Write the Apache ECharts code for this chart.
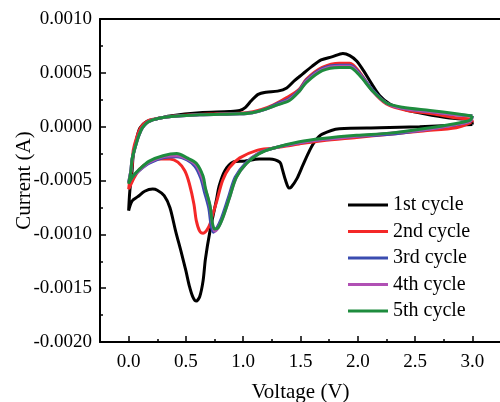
<!DOCTYPE html>
<html>
<head>
<meta charset="utf-8">
<script src="https://cdn.jsdelivr.net/npm/echarts@6/dist/echarts.min.js"></script>
<style>html,body{margin:0;padding:0;background:#fff;}#c{width:500px;height:402px;}</style>
</head>
<body>
<div id="c"></div>
<script>
const seriesNames = ['1st cycle', '2nd cycle', '3rd cycle', '4th cycle', '5th cycle'];
const xTicks = [0, 0.5, 1.0, 1.5, 2.0, 2.5, 3.0];
const xMinorTicks = [0.25, 0.75, 1.25, 1.75, 2.25, 2.75];

const v1 = [3.00,2.54,2.19,1.84,1.69,1.63,1.58,1.52,1.47,1.42,1.40,1.37,1.34,1.32,1.23,1.14,1.01,0.91,0.84,0.79,0.77,0.71,0.67,0.65,0.62,0.59,0.56,0.53,0.50,0.46,0.41,0.36,0.31,0.25,0.21,0.14,0.08,0.03,0.00,0.01,0.03,0.04,0.07,0.10,0.16,0.23,0.36,0.62,0.88,0.97,1.02,1.07,1.13,1.20,1.30,1.38,1.45,1.52,1.60,1.68,1.78,1.87,1.93,1.99,2.05,2.12,2.19,2.28,2.41,2.58,2.80,2.93,2.99,3.00];
const i1 = [0.00002,0.0,-0.00001,-0.00002,-0.00007,-0.00013,-0.00022,-0.00036,-0.00048,-0.00056,-0.00057,-0.0005,-0.00039,-0.00033,-0.0003,-0.0003,-0.00032,-0.00033,-0.00041,-0.00055,-0.00066,-0.00097,-0.00123,-0.00143,-0.00158,-0.00162,-0.00158,-0.00148,-0.00134,-0.00117,-0.00097,-0.00075,-0.00064,-0.00059,-0.00058,-0.0006,-0.00065,-0.00069,-0.00078,-0.0006,-0.00041,-0.00027,-0.00011,-0.00001,0.00005,0.00007,0.0001,0.00013,0.00014,0.00015,0.00018,0.00024,0.0003,0.00032,0.00033,0.00036,0.00043,0.00049,0.00056,0.00062,0.00065,0.00068,0.00066,0.00061,0.00052,0.0004,0.00029,0.00021,0.00016,0.00012,0.00008,0.00007,0.00006,0.00002];

const v2 = [2.99,2.86,2.57,2.28,1.99,1.69,1.49,1.26,1.12,0.97,0.88,0.82,0.77,0.73,0.70,0.65,0.62,0.59,0.57,0.53,0.49,0.43,0.36,0.27,0.18,0.10,0.05,0.01,0.00,0.01,0.03,0.04,0.07,0.11,0.18,0.27,0.40,0.77,1.03,1.16,1.26,1.38,1.49,1.55,1.69,1.84,1.93,2.02,2.13,2.25,2.43,2.65,2.87,2.99,3.00];
const i2 = [0.00004,-0.00001,-0.00004,-0.00007,-0.0001,-0.00013,-0.00016,-0.0002,-0.00022,-0.00029,-0.00038,-0.0005,-0.00069,-0.00083,-0.00093,-0.00099,-0.00097,-0.00087,-0.00072,-0.00053,-0.00041,-0.00033,-0.0003,-0.0003,-0.00033,-0.00039,-0.00047,-0.00056,-0.00058,-0.0005,-0.00036,-0.00022,-0.0001,0.0,0.00006,0.00008,0.0001,0.00012,0.00013,0.00016,0.0002,0.00027,0.00035,0.00044,0.00055,0.00059,0.00059,0.0005,0.00033,0.00021,0.00015,0.00012,0.00008,0.00007,0.00004];

const v3 = [3.00,2.98,2.86,2.57,2.28,1.99,1.69,1.49,1.26,1.13,1.02,0.93,0.87,0.81,0.77,0.74,0.72,0.70,0.66,0.63,0.58,0.51,0.42,0.30,0.18,0.10,0.03,0.00,0.02,0.03,0.06,0.09,0.12,0.18,0.33,0.62,0.97,1.08,1.19,1.29,1.40,1.49,1.55,1.69,1.84,1.93,2.02,2.13,2.25,2.39,2.63,2.86,3.00];
const i3 = [0.0001,0.00005,0.00002,-0.00003,-0.00007,-0.00009,-0.00012,-0.00015,-0.0002,-0.00025,-0.00034,-0.00047,-0.00066,-0.00085,-0.00094,-0.00098,-0.00092,-0.00076,-0.0006,-0.00048,-0.00037,-0.00031,-0.00028,-0.00029,-0.00034,-0.0004,-0.00047,-0.00052,-0.0004,-0.0003,-0.00018,-0.00008,-0.00001,0.00005,0.00009,0.00011,0.00012,0.00013,0.00016,0.00021,0.00026,0.00034,0.00043,0.00054,0.00057,0.00057,0.00049,0.00034,0.00022,0.00017,0.00014,0.00011,0.0001];

const v4 = [3.00,2.98,2.86,2.57,2.28,1.99,1.69,1.49,1.26,1.13,1.03,0.94,0.88,0.82,0.78,0.75,0.73,0.71,0.67,0.64,0.59,0.51,0.42,0.30,0.18,0.10,0.03,0.00,0.02,0.03,0.06,0.09,0.12,0.18,0.33,0.62,0.97,1.08,1.19,1.29,1.40,1.49,1.55,1.69,1.84,1.93,2.02,2.13,2.25,2.39,2.63,2.86,3.00];
const i4 = [0.0001,0.00005,0.00002,-0.00003,-0.00006,-0.00009,-0.00012,-0.00015,-0.0002,-0.00025,-0.00034,-0.00047,-0.00066,-0.00085,-0.00094,-0.00097,-0.0009,-0.00074,-0.00058,-0.00047,-0.00036,-0.0003,-0.00027,-0.00028,-0.00033,-0.0004,-0.00047,-0.00052,-0.0004,-0.0003,-0.00018,-0.00008,-0.00001,0.00005,0.00009,0.00011,0.00012,0.00013,0.00016,0.0002,0.00025,0.00033,0.00042,0.00053,0.00056,0.00056,0.00048,0.00033,0.00022,0.00017,0.00014,0.00011,0.0001];

const v5 = [3.00,2.98,2.86,2.57,2.28,1.99,1.69,1.49,1.26,1.14,1.03,0.94,0.88,0.82,0.78,0.75,0.73,0.71,0.67,0.65,0.59,0.51,0.42,0.30,0.18,0.10,0.03,0.00,0.02,0.03,0.06,0.09,0.12,0.18,0.33,0.62,0.97,1.08,1.19,1.29,1.40,1.49,1.55,1.69,1.84,1.93,2.02,2.13,2.25,2.39,2.63,2.86,3.00];
const i5 = [0.0001,0.00006,0.00003,-0.00002,-0.00006,-0.00008,-0.00011,-0.00014,-0.0002,-0.00025,-0.00034,-0.00047,-0.00066,-0.00085,-0.00094,-0.00095,-0.00089,-0.00073,-0.00057,-0.00046,-0.00034,-0.00029,-0.00025,-0.00027,-0.00032,-0.00039,-0.00047,-0.00053,-0.00041,-0.0003,-0.00018,-0.00008,-0.00001,0.00005,0.00009,0.00011,0.00012,0.00013,0.00016,0.0002,0.00024,0.00033,0.00041,0.00052,0.00055,0.00055,0.00047,0.00033,0.00022,0.00018,0.00015,0.00012,0.0001];

const colors = ['#000000', '#f42828', '#3a4cb0', '#b050b4', '#1e8c3e'];
const volts = [v1, v2, v3, v4, v5];
const currents = [i1, i2, i3, i4, i5];

const FONT = '"Liberation Serif", "Times New Roman", serif';

const series = seriesNames.map((name, k) => ({
  name: name,
  type: 'line',
  xAxisIndex: 0,
  data: volts[k].map((v, j) => [v, currents[k][j]]),
  symbol: 'none',
  showSymbol: false,
  smooth: 0.3,
  lineStyle: { color: colors[k], width: 3 },
  itemStyle: { color: colors[k] },
  z: 2 + k,
  animation: false
}));

const chart = echarts.init(document.getElementById('c'), null, { renderer: 'canvas' });
chart.setOption({
  animation: false,
  backgroundColor: '#ffffff',
  grid: { left: 100, top: 19, width: 401, height: 323, containLabel: false, outerBoundsMode: 'none' },
  legend: {
    orient: 'vertical',
    left: 343,
    top: 190,
    padding: 5,
    icon: 'rect',
    itemWidth: 40,
    itemHeight: 3,
    itemGap: 6.5,
    data: seriesNames,
    textStyle: { fontFamily: FONT, fontSize: 20, color: '#000', lineHeight: 20 }
  },
  xAxis: [
    {
      type: 'value', min: -0.25, max: 3.25, position: 'bottom',
      axisLine: { show: true, onZero: false, lineStyle: { color: '#000', width: 2 } },
      axisTick: { show: true, inside: true, length: 6, customValues: xTicks, lineStyle: { color: '#000', width: 1.5 } },
      axisLabel: { customValues: xTicks, formatter: v => v.toFixed(1), fontFamily: FONT, fontSize: 19, color: '#000', margin: 11 },
      splitLine: { show: false },
      name: 'Voltage (V)', nameLocation: 'middle', nameGap: 40,
      nameTextStyle: { fontFamily: FONT, fontSize: 21, color: '#000' }
    },
    {
      type: 'value', min: -0.25, max: 3.25, position: 'bottom',
      axisLine: { show: false, onZero: false },
      axisTick: { show: true, inside: true, length: 3, customValues: xMinorTicks, lineStyle: { color: '#000', width: 1.5 } },
      axisLabel: { show: false },
      splitLine: { show: false }
    },
    {
      type: 'value', min: -0.25, max: 3.25, position: 'top',
      axisLine: { show: true, onZero: false, lineStyle: { color: '#000', width: 2 } },
      axisTick: { show: false },
      axisLabel: { show: false },
      splitLine: { show: false }
    }
  ],
  yAxis: [
    {
      type: 'value', min: -0.002, max: 0.001, interval: 0.0005, position: 'left',
      axisLine: { show: true, onZero: false, lineStyle: { color: '#000', width: 2 } },
      axisTick: { show: true, inside: true, length: 6, lineStyle: { color: '#000', width: 1.5 } },
      minorTick: { show: true, splitNumber: 2, length: 3, lineStyle: { color: '#000', width: 1.5 } },
      axisLabel: { formatter: v => (Math.round(v * 1e4) / 1e4).toFixed(4), fontFamily: FONT, fontSize: 19, color: '#000', margin: 8 },
      splitLine: { show: false },
      minorSplitLine: { show: false },
      name: 'Current (A)', nameLocation: 'middle', nameGap: 65, nameMoveOverlap: false,
      nameTextStyle: { fontFamily: FONT, fontSize: 21, color: '#000' }
    }
  ],
  series: series
});
</script>
</body>
</html>
